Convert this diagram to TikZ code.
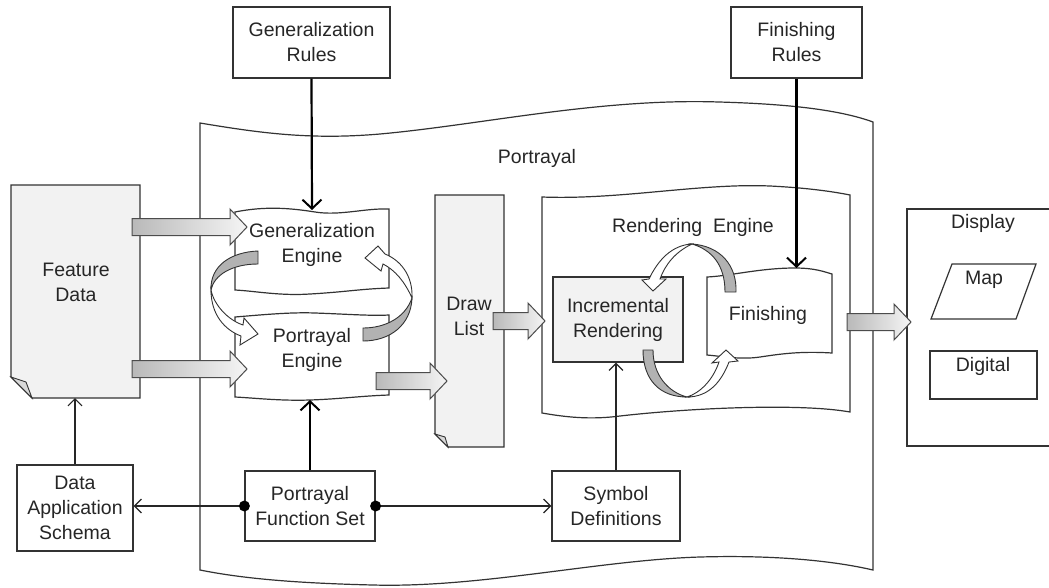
\documentclass[tikz,border=0pt]{standalone}
\usepackage{fontspec}
\setmainfont{Liberation Sans}
\usetikzlibrary{arrows.meta,shapes.geometric}
\tikzset{
  box/.style={draw=black!80, line width=1.2pt, fill=white, align=center, inner sep=0pt, text=black!85},
  lbl/.style={align=center, inner sep=0pt, text=black!85},
  outline/.style={draw=black!80, line width=1.2pt},
  thickarr/.style={draw=black, line width=2.2pt, -{Straight Barb[length=9pt,width=19pt,line width=2pt]}},
  thinarr/.style={draw=black!85, line width=1.2pt, -{Straight Barb[length=7pt,width=14pt]}},
  blk/.style={draw=black!70, line width=1pt, left color=gray!55, right color=gray!8},
  ribdark/.style={draw=black!80, line width=0.9pt, fill=gray!60},
  ribwhite/.style={draw=black!80, line width=0.9pt, fill=white},
}
\newcommand\blkarrow[3]{%
  \draw[blk] ({#1},{#3-8.5}) -- ({#2-17},{#3-8.5}) -- ({#2-17},{#3-18}) -- ({#2},{#3}) -- ({#2-17},{#3+18}) -- ({#2-17},{#3+8.5}) -- ({#1},{#3+8.5}) -- cycle;}
\begin{document}
\begin{tikzpicture}[x=1pt,y=-1pt,font=\fontsize{19.5}{25}\selectfont]
\useasboundingbox (0,0) rectangle (1049,587);
\fill[white] (0,0) rectangle (1049,587);

% Portrayal outer shape
\draw[outline, fill=white] (200,123) .. controls (260,133) and (310,140) .. (380,134)
  .. controls (480,125) and (600,98) .. (719,102)
  .. controls (790,104) and (840,110) .. (873,122) -- (873,570)
  .. controls (830,560) and (770,555) .. (700,557)
  .. controls (600,560) and (480,588) .. (373,585)
  .. controls (290,583) and (240,578) .. (200,570) -- cycle;
\node[lbl] (portlbl) at (537,158) {Portrayal};

% Feature data document
\draw[outline, fill=gray!10] (11,185) -- (140,185) -- (140,398) -- (32,398) -- (11,377) -- cycle;
\draw[draw=black!80, line width=0.9pt, fill=gray!30] (11,377) -- (26,382) -- (32,398) -- cycle;
\node[lbl] (featdata) at (76,282) {Feature\\Data};
\coordinate (fdbot) at (75,398);

% Draw list document
\draw[outline, fill=gray!10] (435,195) -- (504,195) -- (504,447) -- (448,447) -- (435,434) -- cycle;
\draw[draw=black!80, line width=0.9pt, fill=gray!30] (435,434) -- (445,437) -- (448,447) -- cycle;
\node[lbl] (drawlist) at (469,316) {Draw\\List};

% Rendering engine
\draw[outline, fill=white] (542,197) .. controls (620,200) and (700,183) .. (770,186)
  .. controls (810,188) and (835,192) .. (850,195) -- (850,412)
  .. controls (800,403) and (690,408) .. (620,416)
  .. controls (590,420) and (565,417) .. (542,413) -- cycle;
\node[lbl] (renderlbl) at (693,227) {Rendering~ Engine};

% Display
\draw[outline, fill=white] (907,209) rectangle (1060,446);
\node[lbl] (displbl) at (983,223) {Display};
\draw[outline, fill=white] (952,264) -- (1036,264) -- (1016,319) -- (931,319) -- cycle;
\node[lbl] (map) at (984,280) {Map};
\draw[outline, fill=white] (930,351) rectangle (1037,399);
\node[lbl] (digital) at (983,366) {Digital};

% Generalization engine
\draw[outline, fill=white] (235,212) .. controls (265,206) and (290,208) .. (315,212)
  .. controls (340,216) and (365,208) .. (389,209) -- (389,288)
  .. controls (360,289) and (345,292) .. (310,294)
  .. controls (280,296) and (255,291) .. (235,290) -- cycle;
\node[lbl] (geneng) at (312,245) {Generalization\\Engine};
\coordinate (gentop) at (312,210);

% Portrayal engine
\draw[outline, fill=white] (235,317) .. controls (260,315) and (290,312) .. (315,313)
  .. controls (345,314) and (370,316) .. (389,315) -- (389,395)
  .. controls (360,396) and (340,399) .. (310,400)
  .. controls (280,401) and (255,398) .. (235,397) -- cycle;
\node[lbl] (porteng) at (312,350) {Portrayal\\Engine};
\coordinate (portbot) at (310,400);

% ribbons between engines
\draw[ribdark] (258,251) .. controls (232,252) and (210,265) .. (211,290)
  .. controls (214,275) and (232,264) .. (258,264) -- cycle;
\draw[ribwhite] (211,290) .. controls (211,315) and (225,330) .. (241,336)
  -- (240,345) -- (258,334) -- (244,318) -- (243,325)
  .. controls (228,320) and (214,305) .. (211,290) -- cycle;
\draw[ribdark] (363,328) .. controls (385,328) and (405,318) .. (412,298)
  .. controls (411,325) and (390,341) .. (363,341) -- cycle;
\draw[ribwhite] (412,298) .. controls (413,275) and (400,260) .. (385,254)
  -- (378,246) -- (365,258) -- (381,271) -- (383,264)
  .. controls (395,270) and (405,282) .. (412,298) -- cycle;

% block arrows
\blkarrow{132}{247}{227}
\blkarrow{132}{247}{369}
\blkarrow{376}{447}{381}
\blkarrow{493}{545}{321}
\blkarrow{847}{911}{322}

% Incremental rendering
\node[box, fill=gray!10, minimum width=130, minimum height=85] (incr) at (618,319.5) {Incremental\\Rendering};

% Finishing
\draw[outline, fill=white] (707,277) .. controls (730,276) and (760,268) .. (795,268)
  .. controls (815,268) and (825,272) .. (832,274) -- (832,353)
  .. controls (800,351) and (780,354) .. (760,357)
  .. controls (740,360) and (720,356) .. (707,355) -- cycle;
\node[lbl] (finishing) at (768,315) {Finishing};
\coordinate (fintop) at (796.5,268);

% ribbons in rendering engine
\draw[ribdark] (736,292) .. controls (737,265) and (720,246) .. (692,244)
  .. controls (712,250) and (725,265) .. (725,292) -- cycle;
\draw[ribwhite] (692,244) .. controls (672,245) and (658,260) .. (649,279)
  -- (642,280) -- (653,291) -- (666,279) -- (660,279)
  .. controls (665,265) and (675,252) .. (692,244) -- cycle;
\draw[ribdark] (643,350) .. controls (643,380) and (660,397) .. (687,397)
  .. controls (668,392) and (653,375) .. (653,350) -- cycle;
\draw[ribwhite] (687,397) .. controls (710,397) and (722,380) .. (729,362)
  -- (738,361) -- (726,350) -- (712,363) -- (719,362)
  .. controls (713,380) and (700,393) .. (687,397) -- cycle;

% rule boxes
\node[box, minimum width=157, minimum height=71] (genrules) at (311.5,42.5) {Generalization\\Rules};
\node[box, minimum width=131, minimum height=71] (finrules) at (796.5,42.5) {Finishing\\Rules};

% bottom boxes
\node[box, minimum width=116, minimum height=86] (das) at (75,508) {Data\\Application\\Schema};
\node[box, minimum width=130, minimum height=70] (pfs) at (310,506) {Portrayal\\Function Set};
\node[box, minimum width=128, minimum height=70] (symdef) at (616,506) {Symbol\\Definitions};

% connectors
\draw[thickarr] (genrules.south) -- (gentop);
\draw[thickarr] (finrules.south) -- (fintop);
\draw[thickarr] (pfs.north) -- (portbot);
\draw[thinarr] (das.north) -- (fdbot);
\draw[thinarr] (symdef.north) -- (symdef.north |- incr.south);
\draw[thinarr] (pfs.west) -- (das.east |- pfs.west);
\draw[thinarr] (pfs.east) -- (symdef.west);
\fill[black] (pfs.west) circle (5.5);
\fill[black] (pfs.east) circle (5.5);
\end{tikzpicture}
\end{document}
